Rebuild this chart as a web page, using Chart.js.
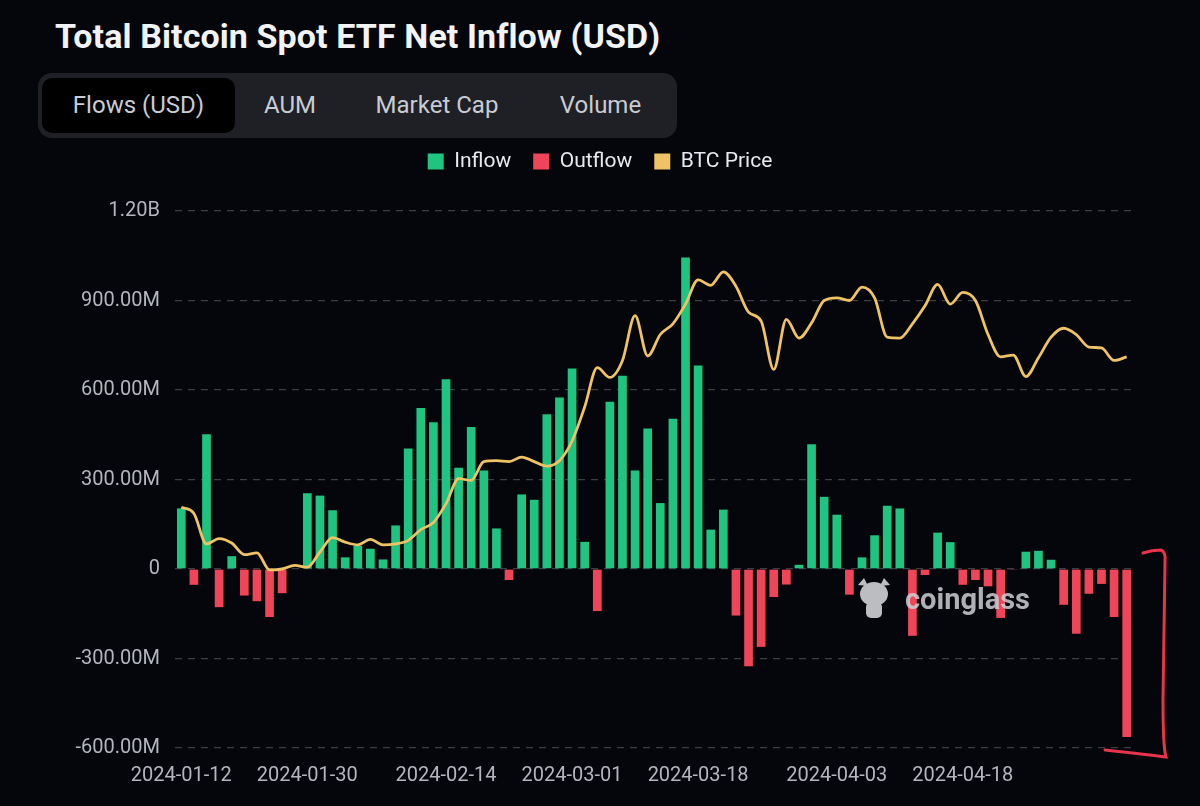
<!DOCTYPE html>
<html>
<head>
<meta charset="utf-8">
<script src="https://cdn.jsdelivr.net/npm/chart.js@4.4.1/dist/chart.umd.min.js"></script>
<style>
  html,body{margin:0;padding:0;background:#05060b;width:1200px;height:806px;overflow:hidden;font-family:Roboto,"Noto Sans",sans-serif;}
  #title{position:absolute;left:55px;top:16px;font:700 34px Roboto,sans-serif;color:#f2f3f5;letter-spacing:0.1px;white-space:nowrap;}
  #tabs{position:absolute;left:38px;top:73px;width:639px;height:65px;background:#1e2026;border-radius:14px;}
  .tab{position:absolute;top:5px;height:55px;line-height:55px;font-size:24px;color:#c9ccd2;text-align:center;}
  .tab.on{background:#000;border-radius:10px;}
  #wrap{position:absolute;left:0;top:129px;width:1200px;height:677px;}
  #overlay{position:absolute;left:0;top:0;pointer-events:none;}
  #wm{position:absolute;left:905px;top:582px;font:700 29px Roboto,sans-serif;color:rgba(205,207,212,0.85);pointer-events:none;}
</style>
</head>
<body>
<div id="title">Total Bitcoin Spot ETF Net Inflow (USD)</div>
<div id="tabs">
  <div class="tab on" style="left:4px;width:193px;">Flows (USD)</div>
  <div class="tab" style="left:222px;width:60px;">AUM</div>
  <div class="tab" style="left:334px;width:130px;">Market Cap</div>
  <div class="tab" style="left:515px;width:95px;">Volume</div>
</div>
<div id="wrap"><canvas id="c" width="1200" height="677"></canvas></div>
<svg id="overlay" width="1200" height="806">
  <g fill="#bcbdc0">
    <ellipse cx="874" cy="594" rx="14" ry="12"/>
    <path d="M858 585 L864 578 L868 586 Z"/>
    <path d="M890 585 L884 578 L880 586 Z"/>
    <rect x="866" y="602" width="16" height="16" rx="5"/>
  </g>
  <path d="M1143 553 Q1152 550 1161 550 Q1166 552 1165 562 L1163 700 Q1163 748 1166 757 Q1150 755 1105 750" fill="none" stroke="#e8344d" stroke-width="3" stroke-linecap="round"/>
</svg>
<div id="wm">coinglass</div>
<script>
// trading days shown as bars
const dates = [
  '2024-01-12','2024-01-16','2024-01-17','2024-01-18','2024-01-19','2024-01-22','2024-01-23','2024-01-24','2024-01-25','2024-01-26',
  '2024-01-29','2024-01-30','2024-01-31','2024-02-01','2024-02-02','2024-02-05','2024-02-06','2024-02-07','2024-02-08','2024-02-09',
  '2024-02-12','2024-02-13','2024-02-14','2024-02-15','2024-02-16','2024-02-20','2024-02-21','2024-02-22','2024-02-23','2024-02-26',
  '2024-02-27','2024-02-28','2024-02-29','2024-03-01','2024-03-04','2024-03-05','2024-03-06','2024-03-07','2024-03-08','2024-03-11',
  '2024-03-12','2024-03-13','2024-03-14','2024-03-15','2024-03-18','2024-03-19','2024-03-20','2024-03-21','2024-03-22','2024-03-25',
  '2024-03-26','2024-03-27','2024-03-28','2024-04-01','2024-04-02','2024-04-03','2024-04-04','2024-04-05','2024-04-08','2024-04-09',
  '2024-04-10','2024-04-11','2024-04-12','2024-04-15','2024-04-16','2024-04-17','2024-04-18','2024-04-19','2024-04-22','2024-04-23',
  '2024-04-24','2024-04-25','2024-04-26','2024-04-29','2024-04-30','2024-05-01'
];
// net flow, millions USD
const flows = [
  203,-53,452,-128,43,-89,-108,-161,-81,0,
  254,246,197,39,78,68,32,146,404,540,
  492,636,339,476,330,136,-37,250,232,519,
  575,672,91,-141,561,648,330,471,221,504,
  1044,682,132,199,-156,-326,-261,-94,-52,14,
  418,242,182,-86,39,113,212,203,-224,-20,
  122,90,-53,-37,-58,-164,-3,58,61,31,
  -120,-217,-83,-50,-161,-563
];
// BTC price, USD
const btcPrice = [
  46900,46200,42800,43400,42900,41600,41800,39900,40000,40400,
  40200,41900,43500,43000,42700,43300,42700,42800,43200,44400,
  45200,47300,50100,49900,52000,52100,52000,52500,52000,51500,
  52100,54300,58100,62500,61400,63300,68300,63800,66200,67400,
  69600,72300,71700,73200,71600,68700,67700,62300,67900,65800,
  67500,70000,70300,70000,71500,70300,65900,65800,67400,69400,
  71800,69600,70900,70000,66200,63700,63900,61500,63600,65900,
  66900,66200,64800,64700,63300,63700
];
const xTickIdx = [0,10,21,31,41,52,62];
const xTickLabels = ['2024-01-12','2024-01-30','2024-02-14','2024-03-01','2024-03-18','2024-04-03','2024-04-18'];
const yTicks = [-600,-300,0,300,600,900,1200];
const yTickLabels = ['-600.00M','-300.00M','0','300.00M','600.00M','900.00M','1.20B'];

const GREEN='#1ec47f', RED='#ef4559', GOLD='#efc365';

// extra room under the legend
const legendGap = {
  id:'legendGap',
  beforeInit(chart){
    const fit = chart.legend.fit;
    chart.legend.fit = function(){ fit.call(this); this.height += 29; };
  }
};

new Chart(document.getElementById('c'),{
  type:'bar',
  data:{
    labels:dates,
    datasets:[
      {type:'line',label:'BTC Price',data:btcPrice,yAxisID:'price',borderColor:GOLD,borderWidth:2.8,
       pointRadius:0,tension:0.4,cubicInterpolationMode:'monotone',order:0},
      {label:'Flows',data:flows,yAxisID:'y',order:1,
       backgroundColor:ctx=>ctx.raw<0?RED:GREEN,barPercentage:0.69,categoryPercentage:1}
    ]
  },
  plugins:[legendGap],
  options:{
    responsive:false,animation:false,
    layout:{padding:0},
    plugins:{
      tooltip:{enabled:false},
      legend:{
        position:'top',align:'center',onClick:null,
        labels:{
          color:'#e8e9ec',font:{size:21,family:'Roboto'},boxWidth:16,boxHeight:16,padding:22,
          generateLabels:()=>[
            {text:'Inflow',fillStyle:GREEN,strokeStyle:GREEN,lineWidth:0,fontColor:'#e8e9ec'},
            {text:'Outflow',fillStyle:RED,strokeStyle:RED,lineWidth:0,fontColor:'#e8e9ec'},
            {text:'BTC Price',fillStyle:GOLD,strokeStyle:GOLD,lineWidth:0,fontColor:'#e8e9ec'}
          ]
        }
      }
    },
    scales:{
      x:{
        grid:{display:false},border:{display:false},
        ticks:{autoSkip:false,maxRotation:0,color:'#b3b6bc',font:{size:20,family:'Roboto'},padding:8,
          callback:(v,i)=>{const k=xTickIdx.indexOf(i);return k<0?'':xTickLabels[k];}},
        afterFit:s=>{s.height=58;}
      },
      y:{
        min:-600,max:1200,
        afterBuildTicks:s=>{s.ticks=yTicks.map(v=>({value:v}));},
        grid:{color:'rgba(150,154,162,0.38)',lineWidth:1.3,drawTicks:false},
        border:{display:false,dash:[7,6]},
        ticks:{color:'#b3b6bc',font:{size:20,family:'Roboto'},padding:15,
          callback:v=>yTickLabels[yTicks.indexOf(v)]},
        afterFit:s=>{s.width=175;}
      },
      price:{
        position:'right',min:20000,max:80000,
        grid:{display:false},border:{display:false},ticks:{display:false},
        afterFit:s=>{s.width=67;}
      }
    }
  }
});
</script>
</body>
</html>
